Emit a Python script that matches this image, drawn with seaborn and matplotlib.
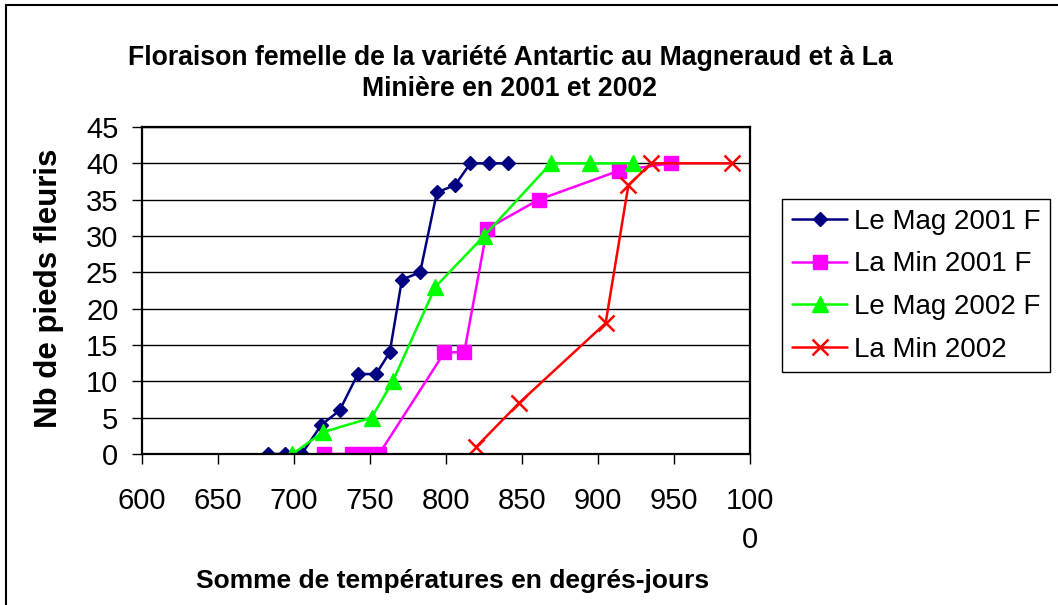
import matplotlib
matplotlib.use("Agg")
import matplotlib.pyplot as plt
import seaborn as sns
import pandas as pd
from matplotlib.patches import Rectangle

# données
mag2001_x = [683, 694, 705, 718, 730, 742, 754, 763, 771, 783, 794, 806, 816, 828, 841]
mag2001_y = [0, 0, 0, 4, 6, 11, 11, 14, 24, 25, 36, 37, 40, 40, 40]

min2001_x = [720, 738, 747, 756, 799, 812, 827, 861, 914, 948]
min2001_y = [0, 0, 0, 0, 14, 14, 31, 35, 39, 40]

mag2002_x = [699, 719, 751, 765, 793, 825, 869, 895, 923]
mag2002_y = [0, 3, 5, 10, 23, 30, 40, 40, 40]

min2002_x = [820, 848, 905, 920, 935, 988]
min2002_y = [1, 7, 18, 37, 40, 40]

series = ["Le Mag 2001 F", "La Min 2001 F", "Le Mag 2002 F", "La Min 2002"]
x_ticks = [600, 650, 700, 750, 800, 850, 900, 950, 1000]
x_tick_labels = ["600", "650", "700", "750", "800", "850", "900", "950", "100\n0"]

donnees = [(mag2001_x, mag2001_y), (min2001_x, min2001_y),
           (mag2002_x, mag2002_y), (min2002_x, min2002_y)]

# style des séries
couleurs = ["#000080", "#FF00FF", "#00FF00", "#FF0000"]
marqueurs = ["D", "s", "^", "x"]
tailles = [7.5, 10.5, 11, 11]

sns.set_theme(style="white")
plt.rcParams['font.family'] = ['Liberation Sans', 'DejaVu Sans']
plt.rcParams.update({"text.color": "black", "axes.labelcolor": "black",
                     "xtick.color": "black", "ytick.color": "black"})

fig = plt.figure(figsize=(10.58, 6.05), dpi=100)
ax = fig.add_axes([142/1058, 1 - 454/605, 608/1058, 327/605])

for (xs, ys), nom, c, m, ms in zip(donnees, series, couleurs, marqueurs, tailles):
    df = pd.DataFrame({"x": xs, "y": ys})
    sns.lineplot(data=df, x="x", y="y", color=c, marker=m, markersize=ms,
                 markeredgecolor=c, markeredgewidth=1.8 if m == "x" else 1,
                 linewidth=1.8, label=nom, sort=False, estimator=None, ax=ax)

ax.set_xlim(600, 1000)
ax.set_ylim(0, 45)
ax.set_xticks(x_ticks)
ax.set_xticklabels(x_tick_labels, fontsize=21, linespacing=1.5)
ax.set_yticks(range(0, 46, 5))
ax.tick_params(axis="y", labelsize=21, direction="out", length=7, width=1, color="black", pad=10, left=True)
ax.tick_params(axis="x", direction="out", length=7, width=1, color="black", pad=17, bottom=True)

ax.grid(axis="y", color="black", linewidth=1)
ax.grid(axis="x", visible=False)
for s in ax.spines.values():
    s.set_color("black")
    s.set_linewidth(1.6)

ax.set_ylabel("Nb de pieds fleuris", fontsize=22.5, fontweight="bold", va="center")
ax.yaxis.set_label_coords((49 - 142) / 608, 0.508)
ax.set_xlabel("Somme de températures en degrés-jours", fontsize=19, fontweight="bold", va="center")
ax.xaxis.set_label_coords((453 - 142) / 608, (454 - 581) / 327)

fig.text(510/1058, 1 - 73.5/605,
         "Floraison femelle de la variété Antartic au Magneraud et à La\nMinière en 2001 et 2002",
         ha="center", va="center", fontsize=19.2, fontweight="bold", linespacing=1.25)

leg = ax.legend(loc="upper left", bbox_to_anchor=(782/1058, 1 - 199/605),
                bbox_transform=fig.transFigure, fontsize=20, frameon=True,
                fancybox=False, framealpha=1, edgecolor="black",
                borderpad=0.35, labelspacing=0.6, handlelength=2.0,
                handletextpad=0.25, borderaxespad=0)
leg.get_frame().set_linewidth(1)

# cadre autour de la figure
fig.patches.append(Rectangle((6/1058, -0.02), 1.05, 1.02 - 5/605, transform=fig.transFigure,
                             fill=False, edgecolor="black", linewidth=1.5, clip_on=False))

fig.savefig("out.png", dpi=100)
